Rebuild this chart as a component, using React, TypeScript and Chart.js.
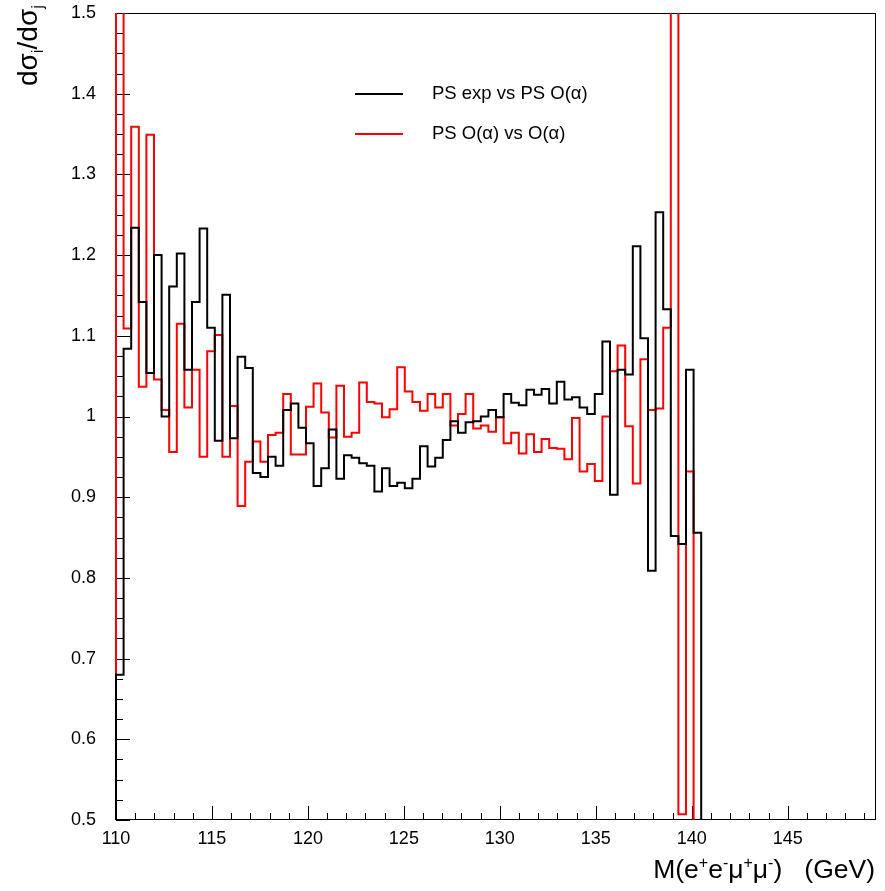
import React, { useEffect, useRef } from 'react';
import { Chart, registerables } from 'chart.js';

Chart.register(...registerables);

const FONT = "'Liberation Sans', Arial, Helvetica, sans-serif";

// Histogram axis definition
const X_MIN = 110;
const X_MAX = 149.6;
const N_BINS = 100;
const Y_MIN = 0.5;
const Y_MAX = 1.5;

// Series labels
const seriesLabels = ['PS exp vs PS O(\u03b1)', 'PS O(\u03b1) vs O(\u03b1)'];
const seriesColors = ['#000000', '#ff0000'];

// Bin contents (ratio), 100 bins from 110 GeV
const psExpVsPsOa = [
  0.68, 1.084, 1.234, 1.142, 1.054, 1.2, 1.0, 1.161, 1.202, 1.058,
  1.142, 1.233, 1.11, 0.97, 1.151, 0.973, 1.074, 1.06, 0.93, 0.925,
  0.95, 0.939, 1.008, 1.016, 0.986, 0.967, 0.914, 0.936, 0.984, 0.923,
  0.952, 0.949, 0.942, 0.939, 0.907, 0.936, 0.914, 0.918, 0.911, 0.923,
  0.963, 0.938, 0.949, 0.971, 0.994, 0.98, 0.993, 0.994, 1.0, 1.008,
  0.999, 1.028, 1.017, 1.014, 1.033, 1.027, 1.034, 1.016, 1.043, 1.021,
  1.024, 1.011, 1.003, 1.028, 1.093, 0.903, 1.058, 1.052, 1.211, 1.097,
  0.809, 1.253, 1.133, 0.852, 0.842, 1.058, 0.856, 0, 0, 0,
  0, 0, 0, 0, 0, 0, 0, 0, 0, 0,
  0, 0, 0, 0, 0, 0, 0, 0, 0, 0,
];

const psOaVsOa = [
  1.6, 1.109, 1.359, 1.037, 1.349, 1.046, 1.008, 0.956, 1.115, 1.011,
  1.058, 0.95, 1.081, 1.101, 0.95, 1.013, 0.889, 0.944, 0.969, 0.944,
  0.977, 0.98, 1.028, 0.953, 0.953, 1.012, 1.041, 1.005, 0.974, 1.038,
  0.975, 0.98, 1.042, 1.018, 1.016, 0.999, 1.009, 1.061, 1.031, 1.018,
  1.007, 1.028, 1.011, 1.028, 0.989, 1.003, 1.028, 0.985, 0.989, 0.981,
  0.999, 0.967, 0.98, 0.954, 0.978, 0.956, 0.972, 0.961, 0.96, 0.947,
  0.998, 0.932, 0.941, 0.92, 1.0, 1.056, 1.088, 0.988, 0.917, 1.071,
  1.008, 1.01, 1.11, 1.6, 0.507, 0.932, 0, 0, 0, 0,
  0, 0, 0, 0, 0, 0, 0, 0, 0, 0,
  0, 0, 0, 0, 0, 0, 0, 0, 0, 0,
];

// Axis tick labels
const xTickValues = [110, 115, 120, 125, 130, 135, 140, 145];
const yTickValues = [0.5, 0.6, 0.7, 0.8, 0.9, 1.0, 1.1, 1.2, 1.3, 1.4, 1.5];
const X_MINOR_STEP = 1;
const Y_MINOR_STEP = 0.025;

function histPoints(values: number[]) {
  const w = (X_MAX - X_MIN) / N_BINS;
  const pts: { x: number; y: number }[] = [{ x: X_MIN, y: 0 }];
  values.forEach((v, i) => pts.push({ x: X_MIN + i * w, y: v }));
  pts.push({ x: X_MAX, y: values[values.length - 1] });
  return pts;
}

function fmtY(v: number) {
  const s = (+v).toFixed(1);
  return s.endsWith('.0') ? s.slice(0, -2) : s;
}

const decorPlugin = {
  id: 'rootDecor',
  beforeDatasetsDraw(chart: any) {
    const { ctx, chartArea: a, scales } = chart;
    const xs = scales.x;
    const ys = scales.y;
    ctx.save();
    ctx.strokeStyle = '#000';
    ctx.lineWidth = 1;
    ctx.beginPath();
    const nY = Math.round((Y_MAX - Y_MIN) / Y_MINOR_STEP);
    for (let k = 0; k <= nY; k++) {
      const v = Y_MIN + k * Y_MINOR_STEP;
      const major = k % 4 === 0;
      const py = Math.round(ys.getPixelForValue(v)) + 0.5;
      ctx.moveTo(a.left, py);
      ctx.lineTo(a.left + (major ? 14 : 7), py);
    }
    for (let v = X_MIN; v <= X_MAX + 1e-9; v += X_MINOR_STEP) {
      const major = Math.abs(v % 5) < 1e-9;
      const px = Math.round(xs.getPixelForValue(v)) + 0.5;
      ctx.moveTo(px, a.bottom);
      ctx.lineTo(px, a.bottom - (major ? 14 : 7));
    }
    ctx.stroke();
    ctx.strokeRect(Math.round(a.left) + 0.5, Math.round(a.top) + 0.5, Math.round(a.right - a.left) - 1, Math.round(a.bottom - a.top) - 1);
    ctx.restore();
  },
  afterDraw(chart: any) {
    const { ctx } = chart;
    ctx.save();
    // Legend
    const ds = chart.data.datasets;
    const legendRows = [94, 134];
    ds.forEach((d: any, i: number) => {
      const yy = legendRows[i];
      ctx.strokeStyle = d.borderColor;
      ctx.lineWidth = 2;
      ctx.beginPath();
      ctx.moveTo(355, yy);
      ctx.lineTo(403, yy);
      ctx.stroke();
      ctx.fillStyle = '#000';
      ctx.font = `18.5px ${FONT}`;
      ctx.textAlign = 'left';
      ctx.textBaseline = 'middle';
      ctx.fillText(d.label, 432, yy);
    });

    // Y title: dσ_i/dσ_j rotated
    const fs = 28;
    const subFs = 17;
    const yParts = [
      { t: 'd\u03c3', sub: false },
      { t: 'i', sub: true },
      { t: '/d\u03c3', sub: false },
      { t: 'j', sub: true },
    ];
    let W = 0;
    yParts.forEach((p) => {
      ctx.font = `${p.sub ? subFs : fs}px ${FONT}`;
      W += ctx.measureText(p.t).width;
    });
    ctx.save();
    ctx.translate(37, 5 + W);
    ctx.rotate(-Math.PI / 2);
    ctx.textAlign = 'left';
    ctx.textBaseline = 'alphabetic';
    ctx.fillStyle = '#000';
    let cur = 0;
    yParts.forEach((p) => {
      ctx.font = `${p.sub ? subFs : fs}px ${FONT}`;
      ctx.fillText(p.t, cur, p.sub ? 6 : 0);
      cur += ctx.measureText(p.t).width;
    });
    ctx.restore();

    // X title: M(e+e-μ+μ-)   (GeV)
    const xfs = 26.5;
    const supFs = 16;
    const xParts = [
      { t: 'M(e', sup: false },
      { t: '+', sup: true },
      { t: 'e', sup: false },
      { t: '-', sup: true },
      { t: '\u03bc', sup: false },
      { t: '+', sup: true },
      { t: '\u03bc', sup: false },
      { t: '-', sup: true },
      { t: ')   (GeV)', sup: false },
    ];
    let XW = 0;
    xParts.forEach((p) => {
      ctx.font = `${p.sup ? supFs : xfs}px ${FONT}`;
      XW += ctx.measureText(p.t).width;
    });
    let cx = 875 - XW;
    ctx.textAlign = 'left';
    ctx.textBaseline = 'alphabetic';
    xParts.forEach((p) => {
      ctx.font = `${p.sup ? supFs : xfs}px ${FONT}`;
      ctx.fillText(p.t, cx, p.sup ? 878 - 10 : 878);
      cx += ctx.measureText(p.t).width;
    });
    ctx.restore();
  },
};

export default function App() {
  const ref = useRef<HTMLCanvasElement | null>(null);
  useEffect(() => {
    if (!ref.current) return;
    const chart = new Chart(ref.current, {
      type: 'line',
      data: {
        datasets: [
          {
            label: seriesLabels[0],
            data: histPoints(psExpVsPsOa),
            borderColor: seriesColors[0],
            borderWidth: 2,
            pointRadius: 0,
            stepped: 'before',
            fill: false,
            clip: { left: 2, top: 0, right: 0, bottom: 0 } as any,
          },
          {
            label: seriesLabels[1],
            data: histPoints(psOaVsOa),
            borderColor: seriesColors[1],
            borderWidth: 2,
            pointRadius: 0,
            stepped: 'before',
            fill: false,
            clip: { left: 2, top: 0, right: 0, bottom: 0 } as any,
          },
        ],
      },
      options: {
        animation: false,
        responsive: false,
        devicePixelRatio: 1,
        layout: { padding: { left: 0, top: 13, right: 9, bottom: 0 } },
        plugins: { legend: { display: false }, tooltip: { enabled: false } },
        elements: { line: { tension: 0 } },
        scales: {
          x: {
            type: 'linear',
            min: X_MIN,
            max: X_MAX,
            grid: { display: false, drawTicks: false },
            border: { display: false },
            afterFit: (s: any) => {
              s.height = 71;
              s.paddingLeft = 0;
              s.paddingRight = 0;
            },
            afterBuildTicks: (s: any) => {
              s.ticks = xTickValues.map((v) => ({ value: v }));
            },
            ticks: {
              autoSkip: false,
              maxRotation: 0,
              padding: 8,
              color: '#000',
              font: { family: FONT, size: 18 },
              callback: (v: any) => String(v),
            },
          },
          y: {
            type: 'linear',
            min: Y_MIN,
            max: Y_MAX,
            grid: { display: false, drawTicks: false },
            border: { display: false },
            afterFit: (s: any) => {
              s.width = 116;
              s.paddingTop = 0;
              s.paddingBottom = 0;
            },
            afterBuildTicks: (s: any) => {
              s.ticks = yTickValues.map((v) => ({ value: v }));
            },
            ticks: {
              autoSkip: false,
              padding: 20,
              color: '#000',
              font: { family: FONT, size: 18 },
              callback: (v: any) => fmtY(v),
            },
          },
        },
      },
      plugins: [decorPlugin],
    });
    return () => chart.destroy();
  }, []);
  return (
    <div style={{ position: 'absolute', left: 0, top: 0, width: 885, height: 891, background: '#fff' }}>
      <canvas ref={ref} width={885} height={891} style={{ display: 'block' }} />
    </div>
  );
}
